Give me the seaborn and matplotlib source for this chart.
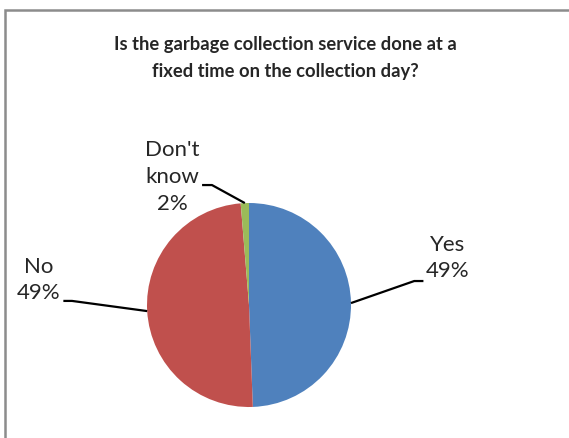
import matplotlib
matplotlib.use("Agg")
import matplotlib.pyplot as plt
import matplotlib.patches as patches
import numpy as np
import seaborn as sns

# Data
categories = ["Yes", "No", "Don't know"]
values = [49.4, 49.3, 1.3]          # wedge sizes as drawn
pct_labels = ["49%", "49%", "2%"]   # percentages as printed on the chart
colors = ["#4F81BD", "#C0504D", "#9BBB59"]
title = "Is the garbage collection service done at a\nfixed time on the collection day?"

sns.set_style("white")
plt.rcParams['font.family'] = ['Lato', 'DejaVu Sans']

W, H, dpi = 569, 438, 100
fig = plt.figure(figsize=(W / dpi, H / dpi), dpi=dpi)
ax = fig.add_axes([0, 0, 1, 1])

wedges, _ = ax.pie(values, colors=colors, startangle=90, counterclock=False,
                   radius=1.0, wedgeprops=dict(linewidth=0))

# pie centre at (249, 305) px, radius 102 px
cx, cy, r = 249, 305, 102
ax.set_xlim(-cx / r, (W - cx) / r)
ax.set_ylim(-(H - cy) / r, cy / r)
ax.set_aspect('equal')
ax.axis('off')

# label text position and elbow (in radius units)
label_pos = {
    "Yes": ((1.95, 0.46), [(1.62, 0.235), (1.71, 0.235)]),
    "No": ((-2.06, 0.245), [(-1.735, 0.04), (-1.82, 0.04)]),
    "Don't know": ((-0.755, 1.255), [(-0.363, 1.176), (-0.46, 1.176)]),
}
label_text = {"Yes": "Yes", "No": "No", "Don't know": "Don't\nknow"}

for w, cat, pct in zip(wedges, categories, pct_labels):
    ang = np.deg2rad((w.theta1 + w.theta2) / 2)
    ex, ey = np.cos(ang), np.sin(ang)
    (tx, ty), elbow = label_pos[cat]
    xs = [ex] + [p[0] for p in elbow]
    ys = [ey] + [p[1] for p in elbow]
    ax.plot(xs, ys, color='black', lw=1.6, solid_capstyle='butt')
    ax.text(tx, ty, f"{label_text[cat]}\n{pct}", ha='center', va='center',
            fontsize=16, linespacing=1.42)

fig.text(285 / W, 1 - 58 / H, title, ha='center', va='center',
         fontsize=13.2, fontweight='bold', linespacing=1.75)

# chart-area frame
fig.patches.append(patches.Rectangle((5 / W, -0.05), 1.1, 1 - 10 / H + 0.05,
                                     transform=fig.transFigure, fill=False,
                                     edgecolor='#8C8C8C', linewidth=1.8))

fig.savefig("out.png", dpi=dpi)
